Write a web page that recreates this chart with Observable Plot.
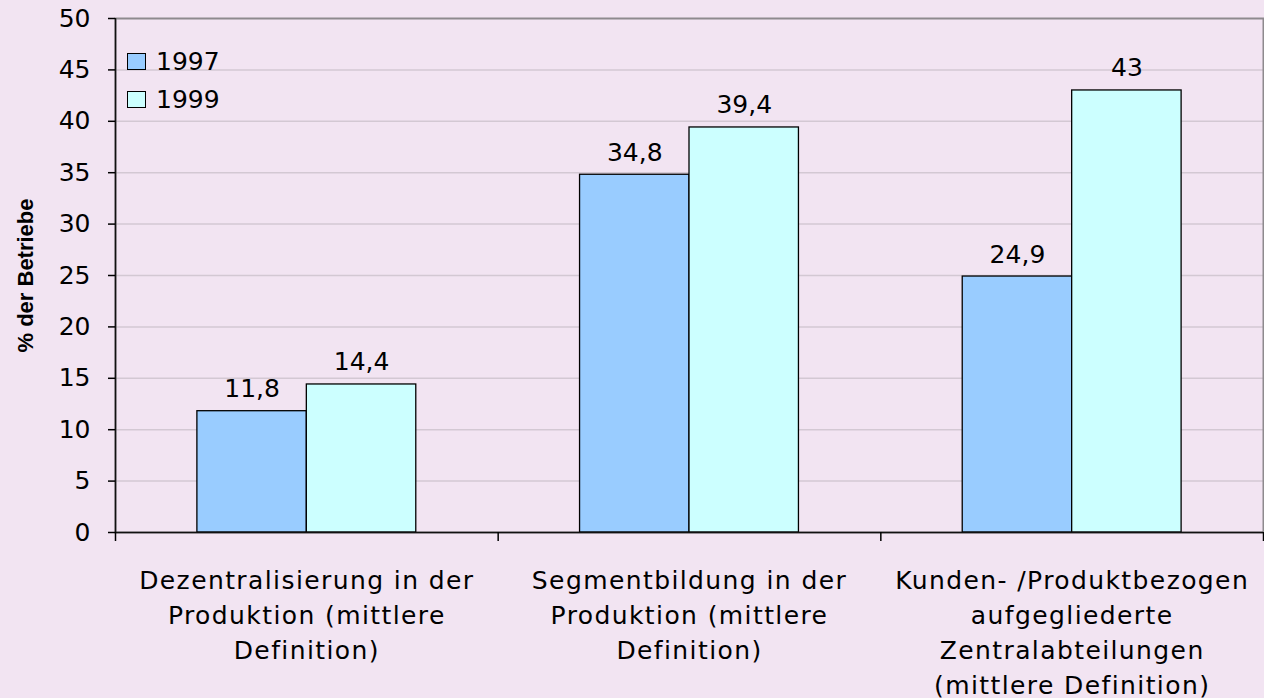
<!DOCTYPE html>
<html><head><meta charset="utf-8">
<script src="https://cdn.jsdelivr.net/npm/d3@7"></script>
<script src="https://cdn.jsdelivr.net/npm/@observablehq/plot@0.6"></script>
<style>
html,body{margin:0;padding:0;background:#F2E4F2;}
#wrap{position:relative;width:1264px;height:698px;}
#legend{position:absolute;left:127px;top:43px;font-family:"DejaVu Sans";font-size:25px;color:#000;}
#legend .item{display:flex;align-items:center;height:37.5px;}
#legend .sw{box-sizing:border-box;width:19px;height:17px;border:1.3px solid #000;margin-right:10px;}
[aria-label="x-axis tick label"] text{letter-spacing:1.4px;}
</style></head>
<body><div id="wrap"><div id="legend"></div></div>
<script>
const categories = [
  "Dezentralisierung in der\nProduktion (mittlere\nDefinition)",
  "Segmentbildung in der\nProduktion (mittlere\nDefinition)",
  "Kunden- /Produktbezogen\naufgegliederte\nZentralabteilungen\n(mittlere Definition)"
];
const years = ["1997", "1999"];
const values1997 = [11.8, 34.8, 24.9];
const values1999 = [14.4, 39.4, 43];
const yTicks = [0, 5, 10, 15, 20, 25, 30, 35, 40, 45, 50];
const colors = ["#99CCFF", "#CCFFFF"];
const yLabel = "% der Betriebe";

const data = [];
categories.forEach((c, i) => {
  data.push({cat: i, year: years[0], value: values1997[i]});
  data.push({cat: i, year: years[1], value: values1999[i]});
});
const bw = 0.286;
const x1 = d => d.cat + 0.5 - (d.year === years[0] ? bw : 0);
const x2 = d => x1(d) + bw;
const fmt = v => String(v).replace(".", ",");
const boundaries = d3.range(categories.length + 1);
const centers = categories.map((c, i) => i + 0.5);

const plot = Plot.plot({
  width: 1264, height: 698,
  marginLeft: 115, marginRight: 1, marginTop: 18, marginBottom: 166,
  style: {background: "transparent", fontFamily: "DejaVu Sans", fontSize: "25px", color: "#000", overflow: "visible"},
  x: {domain: [0, categories.length], axis: null},
  y: {domain: [0, 50], axis: null},
  color: {domain: years, range: colors},
  marks: [
    Plot.ruleY(yTicks.filter(v => v > 0 && v < 50), {stroke: "#D3C8D3", strokeWidth: 1.5}),
    Plot.frame({stroke: "#8E8A8E", strokeWidth: 2}),
    Plot.rectY(data, {x1, x2, y1: 0, y2: "value", fill: "year", stroke: "#000", strokeWidth: 1.3}),
    Plot.text(data, {x: d => (x1(d) + x2(d)) / 2, y: "value", text: d => fmt(d.value), dy: -22, fontSize: 25}),
    Plot.ruleX([0], {stroke: "#111", strokeWidth: 1.5}),
    Plot.ruleY([0], {stroke: "#111", strokeWidth: 1.5}),
    Plot.axisY({ticks: yTicks, tickSize: 7, tickPadding: 18, tickFormat: d => String(d), label: null, fontSize: 25, strokeWidth: 1.5}),
    Plot.axisX({ticks: boundaries, tickSize: 9, tickFormat: () => "", label: null, strokeWidth: 1.5}),
    Plot.axisX({ticks: centers, tickSize: 0, tickPadding: 31, tickFormat: d => categories[Math.round(d - 0.5)], label: null, fontSize: 25, lineHeight: 1.41}),
    Plot.text([yLabel], {frameAnchor: "left", textAnchor: "middle", rotate: -90, dx: -90, fontFamily: "Liberation Sans", fontWeight: "bold", fontSize: 22})
  ]
});
document.getElementById("wrap").prepend(plot);

const legend = document.getElementById("legend");
years.forEach((y, i) => {
  const item = document.createElement("div");
  item.className = "item";
  const sw = document.createElement("div");
  sw.className = "sw";
  sw.style.background = plot.scale("color").apply(y);
  const t = document.createElement("span");
  t.textContent = y;
  item.append(sw, t);
  legend.append(item);
});
</script></body></html>
